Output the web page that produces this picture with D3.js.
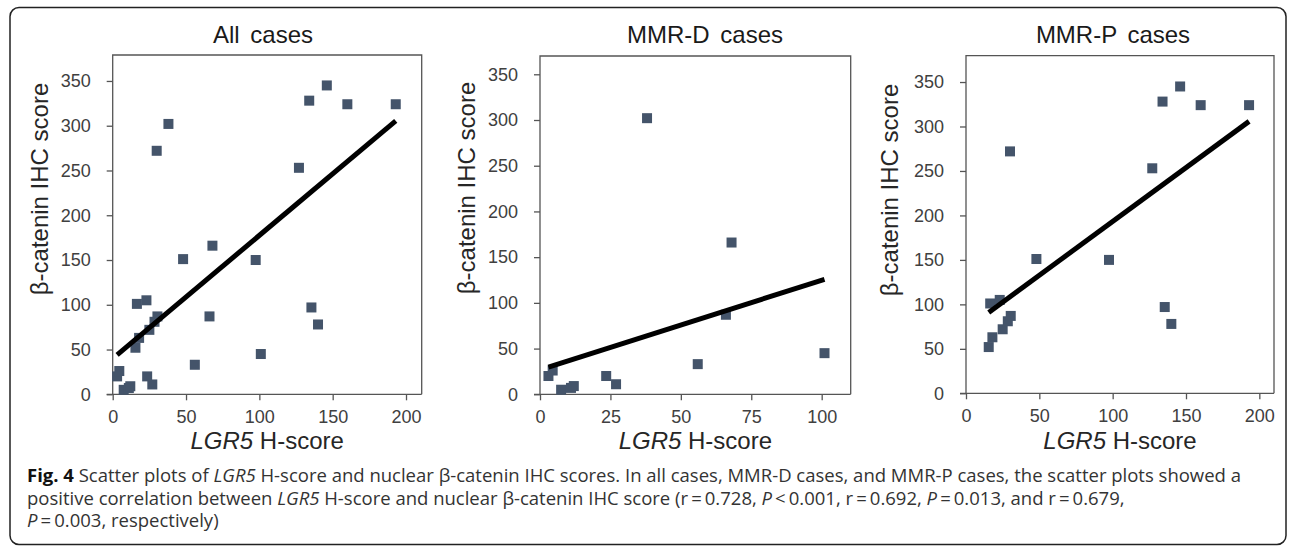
<!DOCTYPE html>
<html>
<head>
<meta charset="utf-8">
<script src="https://cdn.jsdelivr.net/npm/d3@7/dist/d3.min.js"></script>
<style>
  body { margin: 0; background: #fff; }
  svg { display: block; }
  .tick text { font-family: "Liberation Sans", Arial, sans-serif; font-size: 18px; fill: #404040; }
  .caption { font-family: "Open Sans", sans-serif; font-size: 18.5px; fill: #333; }
</style>
</head>
<body>
<script>
// MMR-D cases
var dX = [3, 4.5, 7.5, 11, 12, 23.5, 27, 38, 56, 66, 68, 101];
var dY = [20, 26, 5, 7, 9, 20, 11, 302, 33, 87, 166, 45];
// MMR-P cases
var pX = [15.5, 16.5, 18, 23, 25, 28.5, 30.5, 30, 48, 97.5, 127, 134, 135.5, 140, 146, 160, 193];
var pY = [52, 101, 63, 105, 72, 81, 87, 272, 151, 150, 253, 328, 97, 78, 345, 324, 324];
// all cases = both groups
var allX = dX.concat(pX);
var allY = dY.concat(pY);

var xTicksWide = [0, 50, 100, 150, 200];
var xTicksNarrow = [0, 25, 50, 75, 100];
var yTicks = [0, 50, 100, 150, 200, 250, 300, 350];

var W = 1290, H = 546;
var svg = d3.select("body").append("svg").attr("width", W).attr("height", H);

// outer frame of the figure
svg.append("rect")
  .attr("x", 10).attr("y", 7.5)
  .attr("width", 1276).attr("height", 537)
  .attr("rx", 9)
  .attr("fill", "none").attr("stroke", "#222").attr("stroke-width", 1.5);

function fit(xs, ys) {
  var mx = d3.mean(xs), my = d3.mean(ys), sxy = 0, sxx = 0;
  xs.forEach(function(x, i){ sxy += (x - mx) * (ys[i] - my); sxx += (x - mx) * (x - mx); });
  var b = sxy / sxx;
  return { b: b, a: my - b * mx };
}

ScatterPanel = function(options){
  var defaults = {
    left: 0, right: 0, top: 0, bottom: 0,
    xMax: 210, yMax: 380,
    title: "", titleX: 0, yLabelX: 0, yLabelY: 190
  };
  this.settings = Object.assign({}, defaults, options);

  this.draw = function(xs, ys, xTicks){
    var s = this.settings;
    var x = d3.scaleLinear().domain([0, s.xMax]).range([s.left, s.right]);
    var y = d3.scaleLinear().domain([0, s.yMax]).range([s.bottom, s.top]);
    var g = svg.append("g");

    // plot box
    g.append("path")
      .attr("d", "M" + s.left + "," + s.bottom + "V" + s.top + "H" + s.right + "V" + s.bottom)
      .attr("fill", "none").attr("stroke", "#555").attr("stroke-width", 1.3);

    var xAxis = d3.axisBottom(x).tickValues(xTicks).tickSize(6).tickPadding(10).tickSizeOuter(0);
    var yAxis = d3.axisLeft(y).tickValues(yTicks).tickSize(6).tickPadding(16).tickSizeOuter(0);

    var gx = g.append("g").attr("transform", "translate(0," + s.bottom + ")").call(xAxis);
    gx.select(".domain").remove();
    var gy = g.append("g").attr("transform", "translate(" + s.left + ",0)").call(yAxis);
    gy.select(".domain").remove();
    g.selectAll(".tick line").attr("stroke", "#555").attr("stroke-width", 1.3);

    // x axis line runs under the y tick at 0
    g.append("line")
      .attr("x1", s.left - 6).attr("x2", s.right)
      .attr("y1", s.bottom).attr("y2", s.bottom)
      .attr("stroke", "#555").attr("stroke-width", 1.3);

    // points
    var size = 10;
    g.selectAll("rect.pt")
      .data(xs)
      .enter()
      .append("rect")
      .attr("class", "pt")
      .attr("x", function(d){ return x(d) - size / 2; })
      .attr("y", function(d, i){ return y(ys[i]) - size / 2; })
      .attr("width", size).attr("height", size)
      .attr("fill", "#44546A");

    // linear trend line over the data range
    var f = fit(xs, ys);
    var x0 = d3.min(xs), x1 = d3.max(xs);
    g.append("line")
      .attr("x1", x(x0)).attr("y1", y(f.a + f.b * x0))
      .attr("x2", x(x1)).attr("y2", y(f.a + f.b * x1))
      .attr("stroke", "#000").attr("stroke-width", 5);

    // titles
    g.append("text")
      .attr("x", s.titleX).attr("y", 43)
      .attr("text-anchor", "middle")
      .style("font-family", "Liberation Sans, Arial, sans-serif")
      .style("font-size", "24px").style("word-spacing", "4px").style("fill", "#1a1a1a")
      .text(s.title);

    var xl = g.append("text")
      .attr("x", (s.left + s.right) / 2).attr("y", 449)
      .attr("text-anchor", "middle")
      .style("font-family", "Liberation Sans, Arial, sans-serif")
      .style("font-size", "24px").style("fill", "#262626");
    xl.append("tspan").style("font-style", "italic").text("LGR5");
    xl.append("tspan").text(" H-score");

    g.append("text")
      .attr("transform", "translate(" + s.yLabelX + "," + s.yLabelY + ") rotate(-90)")
      .attr("text-anchor", "middle")
      .attr("dy", "0.35em")
      .style("font-family", "Liberation Sans, Arial, sans-serif")
      .style("font-size", "24px").style("fill", "#262626")
      .text("\u03b2-catenin IHC score");
  };
};

new ScatterPanel({ left: 112.7, right: 421.7, top: 55, bottom: 394.3, xMax: 210.7, yMax: 379,
  title: "All cases", titleX: 263, yLabelX: 40, yLabelY: 189 }).draw(allX, allY, xTicksWide);
new ScatterPanel({ left: 540, right: 850.7, top: 56, bottom: 394.3, xMax: 110.3, yMax: 370,
  title: "MMR-D cases", titleX: 705, yLabelX: 467, yLabelY: 188 }).draw(dX, dY, xTicksNarrow);
new ScatterPanel({ left: 966, right: 1274, top: 55.7, bottom: 393.3, xMax: 210, yMax: 379.6,
  title: "MMR-P cases", titleX: 1113, yLabelX: 890, yLabelY: 190 }).draw(pX, pY, xTicksWide);

// caption
var capLines = [
  [["b", "Fig. 4"], ["", " Scatter plots of "], ["i", "LGR5"], ["", " H-score and nuclear \u03b2-catenin IHC scores. In all cases, MMR-D cases, and MMR-P cases, the scatter plots showed a"]],
  [["", "positive correlation between "], ["i", "LGR5"], ["", " H-score and nuclear \u03b2-catenin IHC score (r\u2009=\u20090.728, "], ["i", "P"], ["", "\u2009<\u20090.001, r\u2009=\u20090.692, "], ["i", "P"], ["", "\u2009=\u20090.013, and r\u2009=\u20090.679,"]],
  [["i", "P"], ["", "\u2009=\u20090.003, respectively)"]]
];
capLines.forEach(function(line, li){
  var t = svg.append("text").attr("class", "caption").attr("x", 27).attr("y", 482 + li * 22.5);
  line.forEach(function(seg){
    var sp = t.append("tspan").text(seg[1]);
    if (seg[0] === "b") sp.style("font-weight", "bold").style("fill", "#111");
    if (seg[0] === "i") sp.style("font-style", "italic");
  });
});
</script>
</body>
</html>
